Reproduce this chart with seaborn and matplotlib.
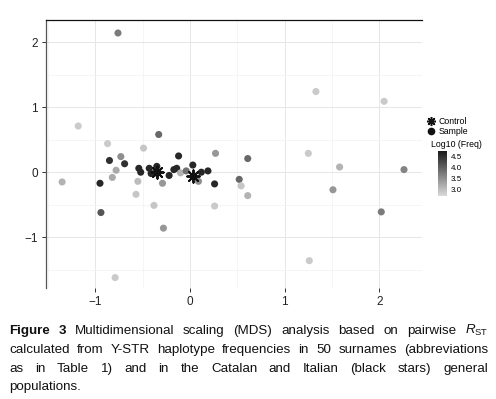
import numpy as np
import pandas as pd
import matplotlib
matplotlib.use("Agg")
import matplotlib.pyplot as plt
import seaborn as sns
from matplotlib.colors import LinearSegmentedColormap, Normalize
from matplotlib.cm import ScalarMappable
from matplotlib.lines import Line2D

# MDS coordinates of the 50 surnames
sample_x = [-0.76, -1.18, -0.87, -0.73, -0.49, -0.33, -0.12, 0.27, 0.61, 1.33,
            2.05, 1.25, 1.58, 2.26, 1.51, 2.02, 1.26, -0.79, -1.35, -0.95,
            -0.94, -0.85, -0.69, -0.78, -0.82, -0.57, -0.55, -0.54, -0.52, -0.43,
            -0.41, -0.35, -0.36, -0.29, -0.38, -0.28, -0.22, -0.17, -0.14, -0.10,
            -0.04, 0.03, 0.09, 0.12, 0.19, 0.26, 0.26, 0.52, 0.54, 0.61]
sample_y = [2.14, 0.71, 0.44, 0.24, 0.37, 0.58, 0.25, 0.29, 0.21, 1.24,
            1.09, 0.29, 0.08, 0.04, -0.27, -0.61, -1.36, -1.62, -0.15, -0.17,
            -0.62, 0.18, 0.13, 0.03, -0.08, -0.34, -0.14, 0.06, 0.00, 0.06,
            -0.02, 0.09, -0.01, -0.17, -0.51, -0.86, -0.05, 0.04, 0.06, -0.01,
            0.02, 0.11, -0.14, 0.00, 0.02, -0.18, -0.52, -0.11, -0.21, -0.36]
sample_logfreq = [3.7, 2.85, 2.85, 3.5, 2.9, 3.9, 4.6, 3.4, 3.9, 2.85,
                  2.85, 2.85, 3.1, 3.6, 3.4, 3.7, 2.85, 2.85, 3.1, 4.6,
                  4.1, 4.5, 4.5, 3.2, 3.2, 2.9, 3.0, 4.6, 4.6, 4.6,
                  4.6, 4.6, 4.6, 3.4, 2.9, 3.4, 4.6, 4.6, 4.6, 3.1,
                  3.8, 4.6, 3.5, 4.6, 4.6, 4.6, 2.85, 3.9, 2.9, 3.1]

# Catalan and Italian general populations
control_x = [-0.35, 0.03]
control_y = [0.00, -0.06]

x_ticks = [-1, 0, 1, 2]
y_ticks = [-1, 0, 1, 2]
cbar_ticks = [3.0, 3.5, 4.0, 4.5]

caption = [
    [("Figure", "bold"), ("3", "bold"), ("Multidimensional", "normal"), ("scaling", "normal"),
     ("(MDS)", "normal"), ("analysis", "normal"), ("based", "normal"), ("on", "normal"),
     ("pairwise", "normal"), (r"$R_{\mathrm{ST}}$", "normal")],
    [(w, "normal") for w in "calculated from Y-STR haplotype frequencies in 50 surnames (abbreviations".split()],
    [(w, "normal") for w in "as in Table 1) and in the Catalan and Italian (black stars) general".split()],
    [("populations.", "normal")],
]

plt.rcParams["font.family"] = ["Liberation Sans", "DejaVu Sans"]
plt.rcParams["mathtext.fontset"] = "custom"
plt.rcParams["mathtext.rm"] = "Liberation Sans"
plt.rcParams["mathtext.it"] = "Liberation Sans:italic"

W, H = 496, 399
fig = plt.figure(figsize=(W / 100, H / 100), dpi=100)
ax = fig.add_axes([46 / W, 1 - 288 / H, 376 / W, 268 / H])

cmap = LinearSegmentedColormap.from_list("greys", ["#dadada", "#1a1a1a"])
norm = Normalize(2.68, 4.74)

df = pd.DataFrame({"x": sample_x, "y": sample_y, "freq": sample_logfreq})
sns.scatterplot(data=df, x="x", y="y", hue="freq", palette=cmap, hue_norm=norm,
                s=26, linewidth=0, legend=False, ax=ax, zorder=3)
ax.scatter(control_x, control_y, marker=(8, 2, 0), s=80, color="#111111",
           linewidths=1.4, zorder=4)

ax.set_xlim(-1.52, 2.45)
ax.set_ylim(-1.78, 2.34)
ax.set_xticks(x_ticks)
ax.set_yticks(y_ticks)
ax.set_xticklabels([str(t).replace("-", "\u2212") for t in x_ticks])
ax.set_yticklabels([str(t).replace("-", "\u2212") for t in y_ticks])
ax.set_xticks([-1.5, -0.5, 0.5, 1.5], minor=True)
ax.set_yticks([-1.5, -0.5, 0.5, 1.5], minor=True)
ax.grid(which="major", color="#e6e6e6", linewidth=0.7)
ax.grid(which="minor", color="#f4f4f4", linewidth=0.6)
ax.set_axisbelow(True)
ax.tick_params(which="major", length=3, width=0.7, color="#333333",
               labelsize=8.5, labelcolor="#222222", pad=3)
ax.tick_params(which="minor", length=0)
ax.set_xlabel("")
ax.set_ylabel("")
for side in ["right", "bottom"]:
    ax.spines[side].set_visible(False)
ax.spines["top"].set_color("#111111")
ax.spines["top"].set_linewidth(0.9)
ax.spines["left"].set_color("#555555")
ax.spines["left"].set_linewidth(0.9)

# legend for shapes
handles = [Line2D([], [], marker=(8, 2, 0), linestyle="", color="#111111", markersize=6.5, markeredgewidth=1.1),
           Line2D([], [], marker="o", linestyle="", color="#111111", markersize=4.5)]
fig.legend(handles, ["Control", "Sample"], loc="upper left",
           bbox_to_anchor=(427 / W, 1 - 117 / H), frameon=False, fontsize=6.3,
           handlelength=0.9, handletextpad=0.4, labelspacing=0.15, borderpad=0,
           borderaxespad=0)
fig.text(431 / W, 1 - 145 / H, "Log10 (Freq)", fontsize=6.3, va="center", ha="left")

cax = fig.add_axes([438 / W, 1 - 196 / H, 9 / W, 45 / H])
cb = fig.colorbar(ScalarMappable(norm=norm, cmap=cmap), cax=cax, ticks=cbar_ticks)
cb.outline.set_visible(False)
cax.tick_params(length=2, width=0.5, color="white", labelsize=5.8, pad=1)
cax.set_yticklabels([f"{t:.1f}" for t in cbar_ticks])


def justify(words, baseline, x0, x1, stretch=True):
    texts = [fig.text(0, 1 - baseline / H, w, fontsize=9.6, fontweight=wt,
                      va="baseline", ha="left", color="#111111") for w, wt in words]
    r = fig.canvas.get_renderer()
    widths = [t.get_window_extent(r).width for t in texts]
    if stretch and len(texts) > 1:
        gap = ((x1 - x0) - sum(widths)) / (len(texts) - 1)
    else:
        gap = 4
    x = x0
    for t, w in zip(texts, widths):
        t.set_x(x / W)
        x += w + gap


baselines = [334, 353, 372, 390]
for i, words in enumerate(caption):
    justify(words, baselines[i], 9, 488, stretch=(i < len(caption) - 1))

fig.savefig("out.png", dpi=100)
